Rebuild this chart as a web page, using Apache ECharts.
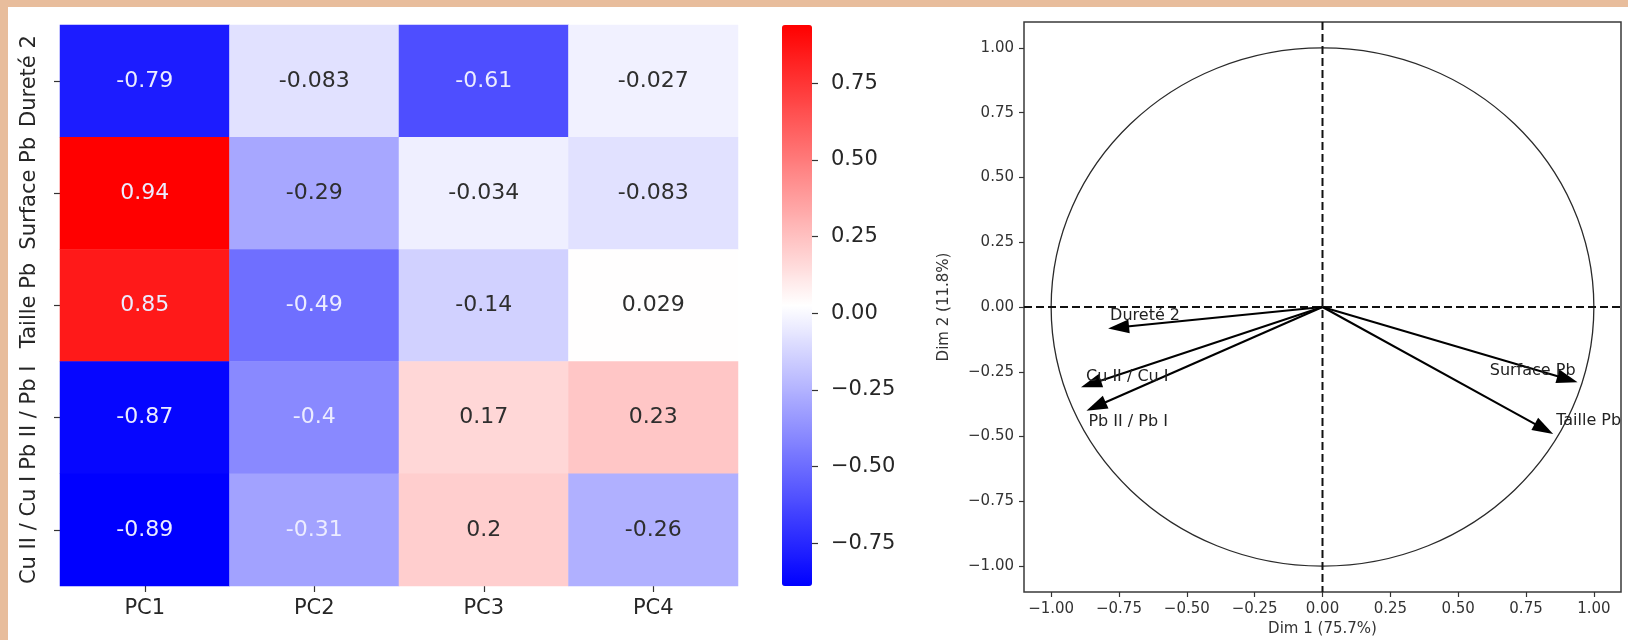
<!DOCTYPE html>
<html>
<head>
<meta charset="utf-8">
<script src="https://cdn.jsdelivr.net/npm/echarts@6/dist/echarts.min.js"></script>
<style>
  html, body { margin: 0; padding: 0; }
  #wrap { position: relative; width: 1628px; height: 640px; background: #e8bd9c; overflow: hidden; }
  #panel { position: absolute; left: 8px; top: 7px; width: 1620px; height: 633px; background: #ffffff; }
  #chart { position: absolute; left: 0; top: 0; width: 1628px; height: 640px; }
</style>
</head>
<body>
<div id="wrap"><div id="panel"></div><div id="chart"></div></div>
<script>
// ---------- data ----------
const components = ['PC1', 'PC2', 'PC3', 'PC4'];
const variables = ['Dureté 2', 'Surface Pb', 'Taille Pb', 'Pb II / Pb I', 'Cu II / Cu I'];
const pc1 = [-0.79, 0.94, 0.85, -0.87, -0.89];
const pc2 = [-0.083, -0.29, -0.49, -0.4, -0.31];
const pc3 = [-0.61, -0.034, -0.14, 0.17, 0.2];
const pc4 = [-0.027, -0.083, 0.029, 0.23, -0.26];
const colorbarTicks = [-0.75, -0.5, -0.25, 0, 0.25, 0.5, 0.75];
const circleTicks = [-1, -0.75, -0.5, -0.25, 0, 0.25, 0.5, 0.75, 1];
const circleLimit = 1.1;
const unitCircle = [[0, 0, 1]];
const dim1Name = 'Dim 1 (75.7%)';
const dim2Name = 'Dim 2 (11.8%)';

// ---------- styles ----------
const FONT = '"DejaVu Sans", "Liberation Sans", sans-serif';
const labelStyle = {
  'Dureté 2':     { dx: 2,  dy: -13, align: 'left' },
  'Surface Pb':   { dx: -2, dy: -11, align: 'right' },
  'Taille Pb':    { dx: 3,  dy: -13, align: 'left' },
  'Pb II / Pb I': { dx: 2,  dy: 11,  align: 'left' },
  'Cu II / Cu I': { dx: 5,  dy: -10, align: 'left' }
};

// ---------- build ----------
const columns = [pc1, pc2, pc3, pc4];
const allValues = [].concat(pc1, pc2, pc3, pc4);
const vmin = Math.min.apply(null, allValues);
const vmax = Math.max.apply(null, allValues);

function bwr(v) {
  const t = (v - vmin) / (vmax - vmin);
  let r, g, b;
  if (t < 0.5) { const s = 2 * t; r = s; g = s; b = 1; }
  else { const s = 2 * (1 - t); r = 1; g = s; b = s; }
  return [r, g, b];
}
function lin(c) { return c <= 0.03928 ? c / 12.92 : Math.pow((c + 0.055) / 1.055, 2.4); }
function textColorFor(v) {
  const c = bwr(v);
  const lum = 0.2126 * lin(c[0]) + 0.7152 * lin(c[1]) + 0.0722 * lin(c[2]);
  return lum > 0.408 ? '#2e2e2e' : '#ececff';
}
function fmt2g(v) { return String(Number(v.toPrecision(2))); }
function fmtMinus(v, d) { return (v < 0 ? '\u2212' : '') + Math.abs(v).toFixed(d); }

const heatData = [];
columns.forEach((col, ci) => {
  col.forEach((v, ri) => {
    heatData.push({ value: [ci, ri, v], label: { color: textColorFor(v) } });
  });
});

const arrowData = variables.map((name, i) => [pc1[i], pc2[i], name]);

const option = {
  animation: false,
  backgroundColor: 'transparent',
  textStyle: { fontFamily: FONT },
  grid: [
    { left: 60, top: 25, width: 678, height: 561, show: false, containLabel: false, outerBoundsMode: 'none' },
    { left: 782, top: 25, width: 30, height: 561, show: false, containLabel: false, outerBoundsMode: 'none' },
    { left: 1024, top: 22, width: 597, height: 570, show: true, borderColor: '#3a3a3a', borderWidth: 1.5,
      backgroundColor: 'transparent', containLabel: false, outerBoundsMode: 'none' }
  ],
  xAxis: [
    { gridIndex: 0, type: 'category', data: components,
      axisLine: { show: false, onZero: false }, splitLine: { show: false },
      axisTick: { show: true, alignWithLabel: true, interval: 0, length: 6, lineStyle: { color: '#333', width: 1.2 } },
      axisLabel: { interval: 0, margin: 12, fontSize: 21, color: '#262626', fontFamily: FONT } },
    { gridIndex: 1, type: 'value', show: false, min: 0, max: 1 },
    { gridIndex: 2, type: 'value', min: -circleLimit, max: circleLimit,
      axisLine: { show: false, onZero: false }, splitLine: { show: false },
      axisTick: { show: true, length: 5, customValues: circleTicks, lineStyle: { color: '#333', width: 1.2 } },
      axisLabel: { customValues: circleTicks, margin: 10, fontSize: 15, color: '#333', fontFamily: FONT,
        formatter: v => fmtMinus(v, 2) },
      name: dim1Name, nameLocation: 'middle', nameGap: 30,
      nameTextStyle: { fontSize: 15, color: '#333', fontFamily: FONT } }
  ],
  yAxis: [
    { gridIndex: 0, type: 'category', data: variables, inverse: true,
      axisLine: { show: false, onZero: false }, splitLine: { show: false },
      axisTick: { show: true, alignWithLabel: true, interval: 0, length: 6, lineStyle: { color: '#333', width: 1.2 } },
      axisLabel: { interval: 0, rotate: 90, margin: 20, fontSize: 21, color: '#262626', fontFamily: FONT } },
    { gridIndex: 1, type: 'value', position: 'right', min: vmin, max: vmax,
      axisLine: { show: false, onZero: false }, splitLine: { show: false },
      axisTick: { show: true, length: 6, customValues: colorbarTicks, lineStyle: { color: '#333', width: 1.2 } },
      axisLabel: { customValues: colorbarTicks, margin: 19, fontSize: 21, color: '#262626', fontFamily: FONT,
        formatter: v => fmtMinus(v, 2) } },
    { gridIndex: 2, type: 'value', min: -circleLimit, max: circleLimit,
      axisLine: { show: false, onZero: false }, splitLine: { show: false },
      axisTick: { show: true, length: 5, customValues: circleTicks, lineStyle: { color: '#333', width: 1.2 } },
      axisLabel: { customValues: circleTicks, margin: 10, fontSize: 15, color: '#333', fontFamily: FONT,
        formatter: v => fmtMinus(v, 2) },
      name: dim2Name, nameLocation: 'middle', nameGap: 72, nameRotate: 90,
      nameTextStyle: { fontSize: 15, color: '#333', fontFamily: FONT } }
  ],
  visualMap: [{
    type: 'continuous', seriesIndex: 0, min: vmin, max: vmax,
    calculable: false, realtime: false, hoverLink: false,
    left: 782, top: 25, itemWidth: 30, itemHeight: 561, padding: 0,
    text: null, showLabel: false,
    inRange: { color: ['#0000ff', '#ffffff', '#ff0000'] }
  }],
  series: [
    { type: 'heatmap', xAxisIndex: 0, yAxisIndex: 0, data: heatData,
      label: { show: true, fontSize: 22, fontFamily: FONT, formatter: p => fmt2g(p.value[2]) },
      emphasis: { disabled: true }, itemStyle: { borderWidth: 0 } },
    { type: 'custom', xAxisIndex: 2, yAxisIndex: 2, data: unitCircle, silent: true,
      dimensions: ['x', 'y', 'r'], encode: { x: 0, y: 1 },
      renderItem: function (params, api) {
        const c = api.coord([api.value(0), api.value(1)]);
        const s = api.size([api.value(2), api.value(2)]);
        const cs = params.coordSys;
        return { type: 'group', children: [
          { type: 'ellipse', shape: { cx: c[0], cy: c[1], rx: s[0], ry: s[1] },
            style: { fill: 'none', stroke: '#2a2a2a', lineWidth: 1.3 } },
          { type: 'line', shape: { x1: cs.x, y1: c[1], x2: cs.x + cs.width, y2: c[1] },
            style: { stroke: '#111', lineWidth: 2, lineDash: [8, 4] } },
          { type: 'line', shape: { x1: c[0], y1: cs.y, x2: c[0], y2: cs.y + cs.height },
            style: { stroke: '#111', lineWidth: 2, lineDash: [8, 4] } }
        ] };
      } },
    { type: 'custom', xAxisIndex: 2, yAxisIndex: 2, data: arrowData, silent: true,
      dimensions: ['x', 'y', 'name'], encode: { x: 0, y: 1 },
      renderItem: function (params, api) {
        const name = variables[params.dataIndex];
        const o = api.coord([0, 0]);
        const p = api.coord([api.value(0), api.value(1)]);
        const dx = p[0] - o[0], dy = p[1] - o[1];
        const len = Math.sqrt(dx * dx + dy * dy);
        const ux = dx / len, uy = dy / len;
        const L = 21, W = 7;
        const bx = p[0] - ux * L, by = p[1] - uy * L;
        const st = labelStyle[name];
        return { type: 'group', children: [
          { type: 'line', shape: { x1: o[0], y1: o[1], x2: bx + ux * 2, y2: by + uy * 2 },
            style: { stroke: '#000', lineWidth: 2 } },
          { type: 'polygon', shape: { points: [[p[0], p[1]], [bx - uy * W, by + ux * W], [bx + uy * W, by - ux * W]] },
            style: { fill: '#000' } },
          { type: 'text', x: p[0] + st.dx, y: p[1] + st.dy,
            style: { text: name, textAlign: st.align, textVerticalAlign: 'middle', verticalAlign: 'middle',
              fontSize: 16, fontFamily: FONT, fill: '#222' } }
        ] };
      } }
  ]
};

const chart = echarts.init(document.getElementById('chart'), null, { renderer: 'canvas' });
chart.setOption(option);
</script>
</body>
</html>
